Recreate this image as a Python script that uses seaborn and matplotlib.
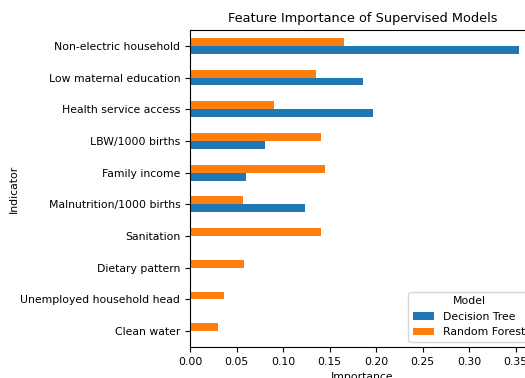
import numpy as np
import pandas as pd
import matplotlib
matplotlib.use("Agg")
import matplotlib.pyplot as plt
import seaborn as sns

indicators = [
    "Non-electric household",
    "Low maternal education",
    "Health service access",
    "LBW/1000 births",
    "Family income",
    "Malnutrition/1000 births",
    "Sanitation",
    "Dietary pattern",
    "Unemployed household head",
    "Clean water",
]
decision_tree = [0.353, 0.186, 0.197, 0.081, 0.060, 0.124, np.nan, np.nan, np.nan, np.nan]
random_forest = [0.165, 0.135, 0.090, 0.1405, 0.145, 0.057, 0.141, 0.058, 0.037, 0.0305]
models = ["Decision Tree", "Random Forest"]
colors = {"Decision Tree": "#1f77b4", "Random Forest": "#ff7f0e"}

df = pd.DataFrame({
    "Indicator": indicators * 2,
    "Importance": decision_tree + random_forest,
    "Model": ["Decision Tree"] * len(indicators) + ["Random Forest"] * len(indicators),
}).dropna()

plt.rcParams["font.size"] = 7.8

fig = plt.figure(figsize=(5.25, 3.78), dpi=100)
ax = fig.add_axes([190 / 525, 31 / 378, 345 / 525, 317 / 378])

sns.barplot(
    data=df, y="Indicator", x="Importance", hue="Model",
    order=indicators, hue_order=["Random Forest", "Decision Tree"],
    palette=colors, orient="h", width=0.5, ax=ax, saturation=1,
    linewidth=0,
)
ax.margins(x=0.05)

handles, labels = ax.get_legend_handles_labels()
lookup = dict(zip(labels, handles))
ax.legend([lookup[m] for m in models], models, title="Model", loc="lower right")

ax.set_title("Feature Importance of Supervised Models", fontsize=9.3)
ax.set_xlabel("Importance")
ax.set_ylabel("Indicator")
ax.yaxis.set_label_coords(-0.496, 0.5)

fig.savefig("out.png", dpi=100)
